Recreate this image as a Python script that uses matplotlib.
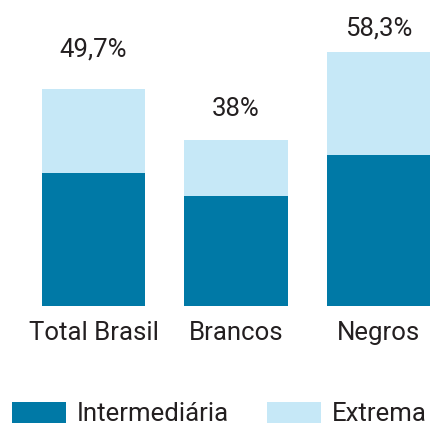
import matplotlib.pyplot as plt
from matplotlib import font_manager

categories = ['Total Brasil', 'Brancos', 'Negros']
intermediaria = [30.5, 25.2, 34.7]
extrema = [19.2, 12.8, 23.6]
totals = ['49,7%', '38%', '58,3%']
label_offsets = [40, 31, 23]  # pixels above bar top

dark = '#0079A6'
light = '#C6E8F7'
txt = '#231F20'

names = {f.name for f in font_manager.fontManager.ttflist}
fam = ['Liberation Sans Narrow', 'DejaVu Sans'] if 'Liberation Sans Narrow' in names else ['Roboto', 'DejaVu Sans']
plt.rcParams['font.family'] = fam
fs = 18.5

fig = plt.figure(figsize=(4.39, 4.30), dpi=100)
ax = fig.add_axes([42 / 439, (430 - 306) / 430, 388 / 439, 306 / 430])

x = range(len(categories))
b1 = ax.bar(x, intermediaria, width=0.723, color=dark, label='Intermediária')
b2 = ax.bar(x, extrema, width=0.723, bottom=intermediaria, color=light, label='Extrema')

for i in x:
    top = intermediaria[i] + extrema[i]
    ax.annotate(totals[i], (i, top), xytext=(0, label_offsets[i]), textcoords='offset pixels',
                ha='center', va='center', fontsize=fs, color=txt)

ax.set_xlim(-0.3615, 2.3615)
ax.set_ylim(0, 306 / 4.357)
ax.set_xticks(list(x))
ax.set_xticklabels(categories, fontsize=fs, color=txt)
ax.tick_params(axis='x', length=0, pad=11)
ax.set_yticks([])
for s in ax.spines.values():
    s.set_visible(False)

fig.legend(handles=[b1, b2], loc='center', bbox_to_anchor=(0.5, 1 - 414 / 430), ncol=2,
           frameon=False, fontsize=fs, handlelength=2.1, handleheight=0.9,
           handletextpad=0.4, columnspacing=1.5, labelcolor=txt)

fig.savefig('out.png', dpi=100)
